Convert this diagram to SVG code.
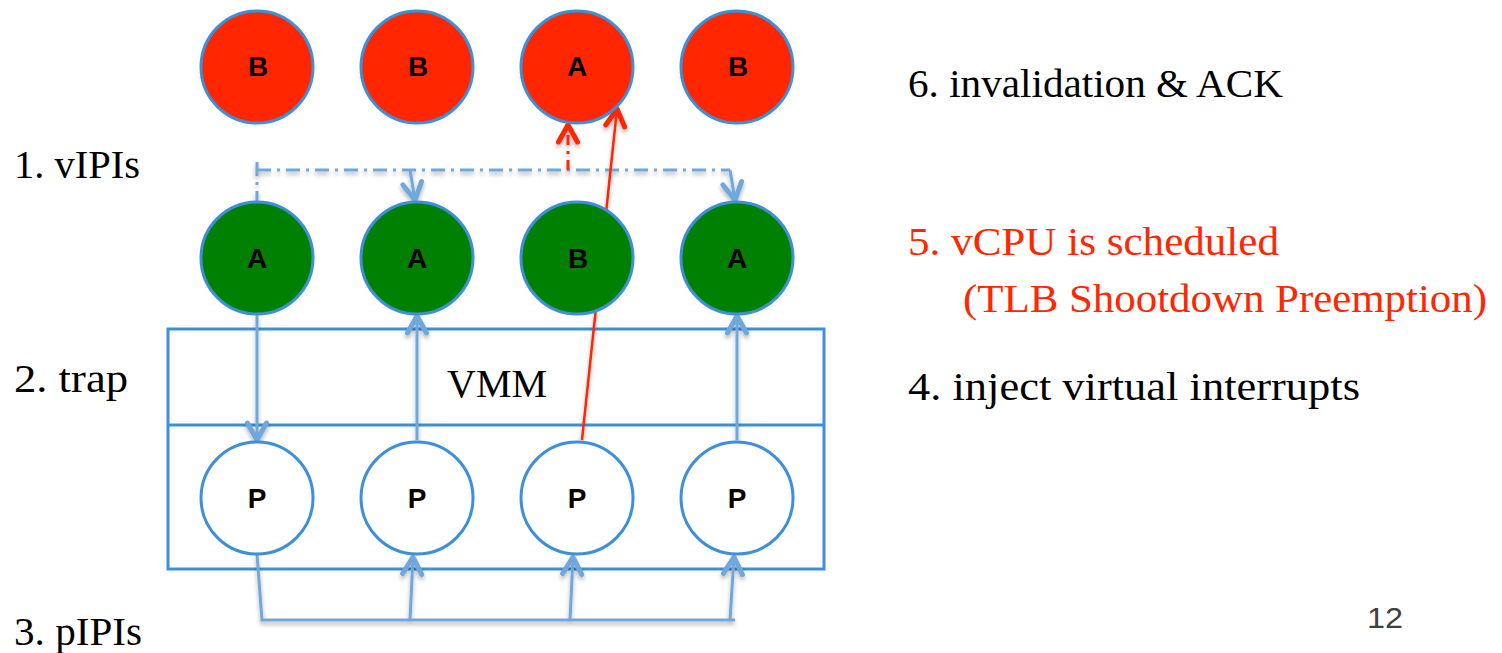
<svg xmlns="http://www.w3.org/2000/svg" width="1502" height="653" viewBox="0 0 1502 653">
<style>
.node{stroke:#3d8fd9;stroke-width:3}
.red{fill:#ff2600}
.green{fill:#008000}
.white{fill:#fff}
.lbl{font-family:"Liberation Sans",Arial,sans-serif;font-weight:bold;font-size:28px;text-anchor:middle;fill:#000}
.t{font-family:"Liberation Serif","Times New Roman",serif;font-size:40px;fill:#000}
.c{fill:none;stroke:#6fa8dc;stroke-width:3}
</style>
<defs>
<filter id="sh" x="-10%" y="-10%" width="120%" height="130%">
<feDropShadow dx="0" dy="3" stdDeviation="2" flood-color="#000" flood-opacity="0.3"/>
</filter>
<marker id="ab" viewBox="0 0 30 30" refX="26" refY="15" markerWidth="30" markerHeight="30" markerUnits="userSpaceOnUse" orient="auto">
<path d="M9,5.5 L26,15 L9,24.5" fill="none" stroke="#6fa8dc" stroke-width="5" stroke-linecap="round" stroke-linejoin="round"/>
</marker>
<marker id="ar" viewBox="0 0 30 30" refX="26" refY="15" markerWidth="30" markerHeight="30" markerUnits="userSpaceOnUse" orient="auto">
<path d="M9,5.5 L26,15 L9,24.5" fill="none" stroke="#ff2600" stroke-width="5" stroke-linecap="round" stroke-linejoin="round"/>
</marker>
</defs>
<rect x="168" y="329" width="656" height="240" fill="none" stroke="#3d8fd9" stroke-width="3"/>
<line x1="168" y1="425" x2="824" y2="425" stroke="#3d8fd9" stroke-width="3"/>
<text class="t" x="497" y="397" text-anchor="middle" textLength="100" lengthAdjust="spacingAndGlyphs">VMM</text>
<g id="connectors" filter="url(#sh)">
<path class="c" d="M257,162 V202" stroke-dasharray="14,6,3,6"/>
<path class="c" d="M257,170 H730" stroke-dasharray="14,6,3,6"/>
<path class="c" d="M410,170 L415,200" marker-end="url(#ab)"/>
<path class="c" d="M730,170 L735,200" marker-end="url(#ab)"/>
<path d="M568,170 V125" fill="none" stroke="#ff2600" stroke-width="3" stroke-dasharray="10,6,3,6" marker-end="url(#ar)"/>
<path d="M582,440 L617,109" fill="none" stroke="#ff2600" stroke-width="2.5" marker-end="url(#ar)"/>
<path class="c" d="M257,314 V440" marker-end="url(#ab)"/>
<path class="c" d="M417,440 V316" marker-end="url(#ab)"/>
<path class="c" d="M737,440 V316" marker-end="url(#ab)"/>
<path class="c" d="M257,554 L262,620 H735"/>
<path class="c" d="M410,620 L413,557" marker-end="url(#ab)"/>
<path class="c" d="M570,620 L573,557" marker-end="url(#ab)"/>
<path class="c" d="M730,620 L734,557" marker-end="url(#ab)"/>
</g>
<g id="vB1"><circle class="node red" cx="257" cy="67" r="56"/><text class="lbl" x="258" y="76">B</text></g>
<g id="vB2"><circle class="node red" cx="417" cy="67" r="56"/><text class="lbl" x="418" y="76">B</text></g>
<g id="vA3"><circle class="node red" cx="577" cy="67" r="56"/><text class="lbl" x="577" y="76">A</text></g>
<g id="vB4"><circle class="node red" cx="737" cy="67" r="56"/><text class="lbl" x="738" y="76">B</text></g>
<g id="gA1"><circle class="node green" cx="257" cy="258" r="56"/><text class="lbl" x="257" y="268">A</text></g>
<g id="gA2"><circle class="node green" cx="417" cy="258" r="56"/><text class="lbl" x="417" y="268">A</text></g>
<g id="gB3"><circle class="node green" cx="577" cy="258" r="56"/><text class="lbl" x="578" y="268">B</text></g>
<g id="gA4"><circle class="node green" cx="737" cy="258" r="56"/><text class="lbl" x="737" y="268">A</text></g>
<g id="p1"><circle class="node white" cx="257" cy="498" r="56"/><text class="lbl" x="257" y="508">P</text></g>
<g id="p2"><circle class="node white" cx="417" cy="498" r="56"/><text class="lbl" x="417" y="508">P</text></g>
<g id="p3"><circle class="node white" cx="577" cy="498" r="56"/><text class="lbl" x="577" y="508">P</text></g>
<g id="p4"><circle class="node white" cx="737" cy="498" r="56"/><text class="lbl" x="737" y="508">P</text></g>
<g id="labels">
<text class="t" x="14" y="178" textLength="126" lengthAdjust="spacingAndGlyphs">1. vIPIs</text>
<text class="t" x="14" y="392" textLength="114" lengthAdjust="spacingAndGlyphs">2. trap</text>
<text class="t" x="14" y="645" textLength="128" lengthAdjust="spacingAndGlyphs">3. pIPIs</text>
<text class="t" x="908" y="97" textLength="375" lengthAdjust="spacingAndGlyphs">6. invalidation &amp; ACK</text>
<text class="t" x="908" y="255" style="fill:#ff2600" textLength="371" lengthAdjust="spacingAndGlyphs">5. vCPU is scheduled</text>
<text class="t" x="963" y="312" style="fill:#ff2600" textLength="524" lengthAdjust="spacingAndGlyphs">(TLB Shootdown Preemption)</text>
<text class="t" x="908" y="400" textLength="452" lengthAdjust="spacingAndGlyphs">4. inject virtual interrupts</text>
<text x="1367" y="628" font-family="'Liberation Sans',Arial,sans-serif" font-size="30" fill="#404040" textLength="36" lengthAdjust="spacingAndGlyphs">12</text>
</g>
</svg>
